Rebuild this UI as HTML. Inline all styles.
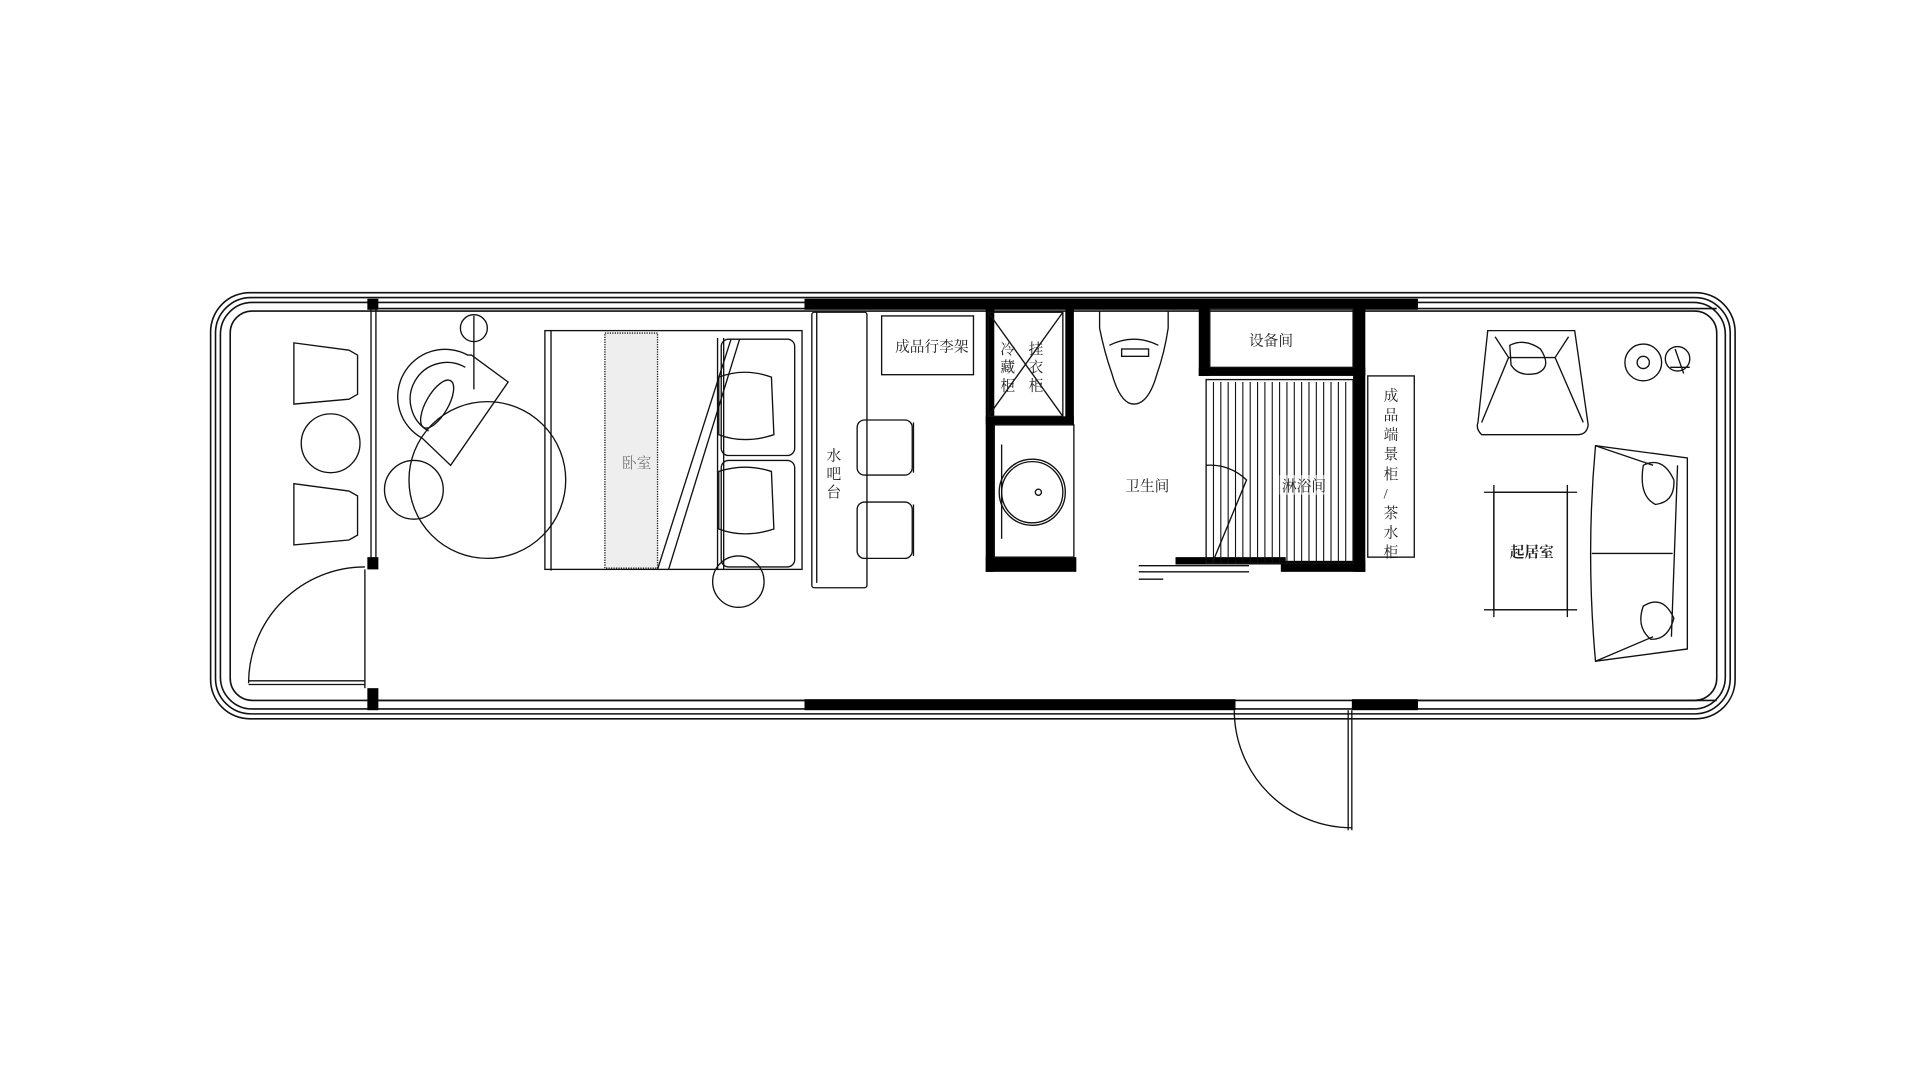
<!DOCTYPE html>
<html><head><meta charset="utf-8"><style>
html,body{margin:0;padding:0;background:#fff;width:1920px;height:1080px;overflow:hidden}
svg{display:block}
text{font-family:"Liberation Serif","Noto Serif CJK SC","Noto Sans CJK SC",serif;font-size:12px;fill:#222}
</style></head><body>
<svg width="1920" height="1080" viewBox="0 0 1568 882" preserveAspectRatio="none" xmlns="http://www.w3.org/2000/svg">
<g fill="none" stroke="#111" stroke-width="1.3">
<rect x="172" y="239" width="1245" height="348" rx="32"/>
<rect x="176" y="243" width="1237" height="340" rx="29"/>
<rect x="180" y="247" width="1229" height="332" rx="26"/>
<rect x="188" y="254" width="1214" height="318" rx="18"/>
<line x1="309" y1="252" x2="657" y2="252"/>
<line x1="309" y1="572" x2="657" y2="572"/>
<line x1="1158" y1="252" x2="1402" y2="252"/>
<line x1="1158" y1="572" x2="1402" y2="572"/>
</g>
<g fill="#000">
<rect x="657" y="244" width="501" height="9"/>
<rect x="657" y="571" width="352" height="9"/>
<rect x="1104" y="571" width="54" height="9"/>
<rect x="300" y="244" width="9" height="9"/>
<rect x="300" y="455" width="9" height="10"/>
<rect x="300" y="562" width="9" height="18"/>
<rect x="805" y="252" width="7" height="215"/>
<rect x="805" y="455" width="74" height="12"/>
<rect x="870" y="252" width="7" height="95"/>
<rect x="805" y="340" width="72" height="7"/>
<rect x="979" y="252" width="9" height="55"/>
<rect x="979" y="300" width="136" height="7"/>
<rect x="1105" y="252" width="10" height="215"/>
<rect x="960" y="455" width="90" height="6"/>
<rect x="1046" y="458" width="69" height="9"/>
</g>
<g fill="none" stroke="#111" stroke-width="1.1">
<line x1="303" y1="252" x2="303" y2="456"/><line x1="307" y1="252" x2="307" y2="456"/>
<line x1="298" y1="465" x2="298" y2="562"/>
<path d="M203 558 A95 95 0 0 1 298 463"/>
<line x1="203" y1="556" x2="298" y2="556"/><line x1="203" y1="559" x2="298" y2="559"/>
<path d="M1008 580 A96 96 0 0 0 1104 676"/>
<line x1="1104" y1="580" x2="1104" y2="678"/><line x1="1101" y1="580" x2="1101" y2="678"/>
<path d="M240 280 L285 286 L292 290 L292 322 L285 326 L240 330 Z"/>
<path d="M240 395 L285 401 L292 405 L292 437 L285 441 L240 445 Z"/>
<circle cx="270" cy="362" r="24"/>
<circle cx="338" cy="400" r="24"/>
<circle cx="398" cy="392" r="64"/>
<circle cx="387" cy="268" r="11"/>
<line x1="387" y1="258" x2="387" y2="318"/>
<path d="M382 290 A38 38 0 1 0 345 358 L368 380 L415 312 L385 290 Z"/>
<path d="M380 300 A28 28 0 1 0 350 352"/>
<ellipse cx="357" cy="330" rx="9" ry="22" transform="rotate(30 357 330)"/>
<rect x="445" y="270" width="210" height="195"/>
<line x1="450" y1="270" x2="450" y2="466"/>
<rect x="494" y="272" width="43" height="192" fill="#eee" stroke-dasharray="1 1"/>
<line x1="537" y1="465" x2="597" y2="277"/><line x1="546" y1="465" x2="604" y2="277"/>
<line x1="586" y1="276" x2="586" y2="465"/><line x1="591" y1="276" x2="591" y2="465"/>
<rect x="589" y="277" width="60" height="95" rx="6"/>
<rect x="589" y="376" width="60" height="87" rx="6"/>
<path d="M587 308 Q608 300 630 308 L632 355 Q608 363 587 355 Z"/>
<path d="M587 385 Q608 378 630 385 L632 432 Q608 440 587 432 Z"/>
<circle cx="603" cy="475" r="21"/>
<rect x="663" y="255" width="45" height="225" rx="2"/>
<line x1="667" y1="255" x2="667" y2="476"/>
<rect x="700" y="343" width="45" height="45" rx="6"/><line x1="746" y1="345" x2="746" y2="386"/>
<rect x="700" y="410" width="45" height="46" rx="6"/><line x1="746" y1="412" x2="746" y2="454"/>
<rect x="720" y="258" width="75" height="48"/>
<rect x="807" y="255" width="61" height="85"/>
<line x1="807" y1="255" x2="868" y2="340"/><line x1="868" y1="255" x2="807" y2="340"/>
<rect x="812" y="347" width="65" height="108"/>
<circle cx="843" cy="402" r="27"/><circle cx="843" cy="402" r="25"/>
<circle cx="848" cy="402" r="2.5"/>
<line x1="818" y1="363" x2="818" y2="440"/>
<path d="M898 254 L898 268 Q902 288 908 305 Q915 330 926 330 Q938 330 945 305 Q951 288 954 268 L954 254"/>
<path d="M906 282 Q926 272 946 282"/>
<rect x="916" y="285" width="22" height="6"/>
<rect x="988" y="252" width="117" height="48"/>
<rect x="985" y="310" width="120" height="150"/>
<path d="M985 380 A42 42 0 0 1 1018 392 L990 460"/>
<line x1="930" y1="462" x2="1020" y2="462"/><line x1="930" y1="467" x2="1020" y2="467"/>
<line x1="930" y1="473" x2="950" y2="473"/>
<rect x="1117" y="307" width="38" height="148"/>
<path d="M1215 270 L1286 270 L1297 347 Q1296 355 1288 355 L1210 355 Q1205 350 1207 345 Z"/>
<path d="M1221 275 L1232 292 L1210 345 M1281 275 L1270 292 L1293 345 M1232 292 L1270 292"/>
<path d="M1233 282 Q1245 276 1258 285 Q1268 300 1255 305 Q1240 308 1234 298 Z"/>
<path d="M1303 364 L1378 374 L1378 530 L1303 540 Q1295 452 1303 364 Z"/>
<path d="M1303 364 L1350 380 M1303 540 L1350 520 M1370 380 L1365 520 M1300 452 L1366 452"/>
<path d="M1342 380 Q1358 372 1367 392 Q1368 410 1352 412 Q1338 405 1342 380 Z"/>
<path d="M1342 495 Q1358 485 1367 505 Q1362 523 1348 522 Q1336 512 1342 495 Z"/>
<rect x="1220" y="402" width="60" height="96"/>
<line x1="1212" y1="402" x2="1288" y2="402"/><line x1="1212" y1="498" x2="1288" y2="498"/>
<line x1="1220" y1="396" x2="1220" y2="504"/><line x1="1280" y1="396" x2="1280" y2="504"/>
<circle cx="1342" cy="296" r="15"/><circle cx="1342" cy="296" r="5"/>
<circle cx="1370" cy="293" r="10"/>
<line x1="1364" y1="300" x2="1380" y2="300"/><line x1="1368" y1="285" x2="1375" y2="305"/>
</g>
<g stroke="#111" stroke-width="0.9">
<line x1="991" y1="312" x2="991" y2="460"/><line x1="997" y1="312" x2="997" y2="460"/><line x1="1003" y1="312" x2="1003" y2="460"/><line x1="1009" y1="312" x2="1009" y2="460"/><line x1="1015" y1="312" x2="1015" y2="460"/><line x1="1021" y1="312" x2="1021" y2="460"/><line x1="1027" y1="312" x2="1027" y2="460"/><line x1="1033" y1="312" x2="1033" y2="460"/><line x1="1039" y1="312" x2="1039" y2="460"/><line x1="1045" y1="312" x2="1045" y2="460"/><line x1="1051" y1="312" x2="1051" y2="460"/><line x1="1057" y1="312" x2="1057" y2="460"/><line x1="1063" y1="312" x2="1063" y2="460"/><line x1="1069" y1="312" x2="1069" y2="460"/><line x1="1075" y1="312" x2="1075" y2="460"/><line x1="1081" y1="312" x2="1081" y2="460"/><line x1="1087" y1="312" x2="1087" y2="460"/><line x1="1093" y1="312" x2="1093" y2="460"/><line x1="1099" y1="312" x2="1099" y2="460"/>
</g>
<g>
<text x="508" y="382" style="fill:#777">卧室</text>
<text x="675" y="376">水</text><text x="675" y="391">吧</text><text x="675" y="406">台</text>
<text x="731" y="287">成品行李架</text>
<text x="817" y="289">冷</text><text x="817" y="304">藏</text><text x="817" y="319">柜</text>
<text x="840" y="289">挂</text><text x="840" y="304">衣</text><text x="840" y="319">柜</text>
<text x="919" y="401">卫生间</text>
<rect x="1045" y="388" width="40" height="16" fill="#fff" opacity="0.6"/>
<text x="1047" y="401">淋浴间</text>
<text x="1020" y="282">设备间</text>
<text x="1130" y="327">成</text><text x="1130" y="343">品</text><text x="1130" y="359">端</text><text x="1130" y="375">景</text><text x="1130" y="391">柜</text><text x="1130" y="407">/</text><text x="1130" y="423">茶</text><text x="1130" y="439">水</text><text x="1130" y="455">柜</text>
<text x="1233" y="455" style="font-weight:bold">起居室</text>
</g>
</svg>
</body></html>
